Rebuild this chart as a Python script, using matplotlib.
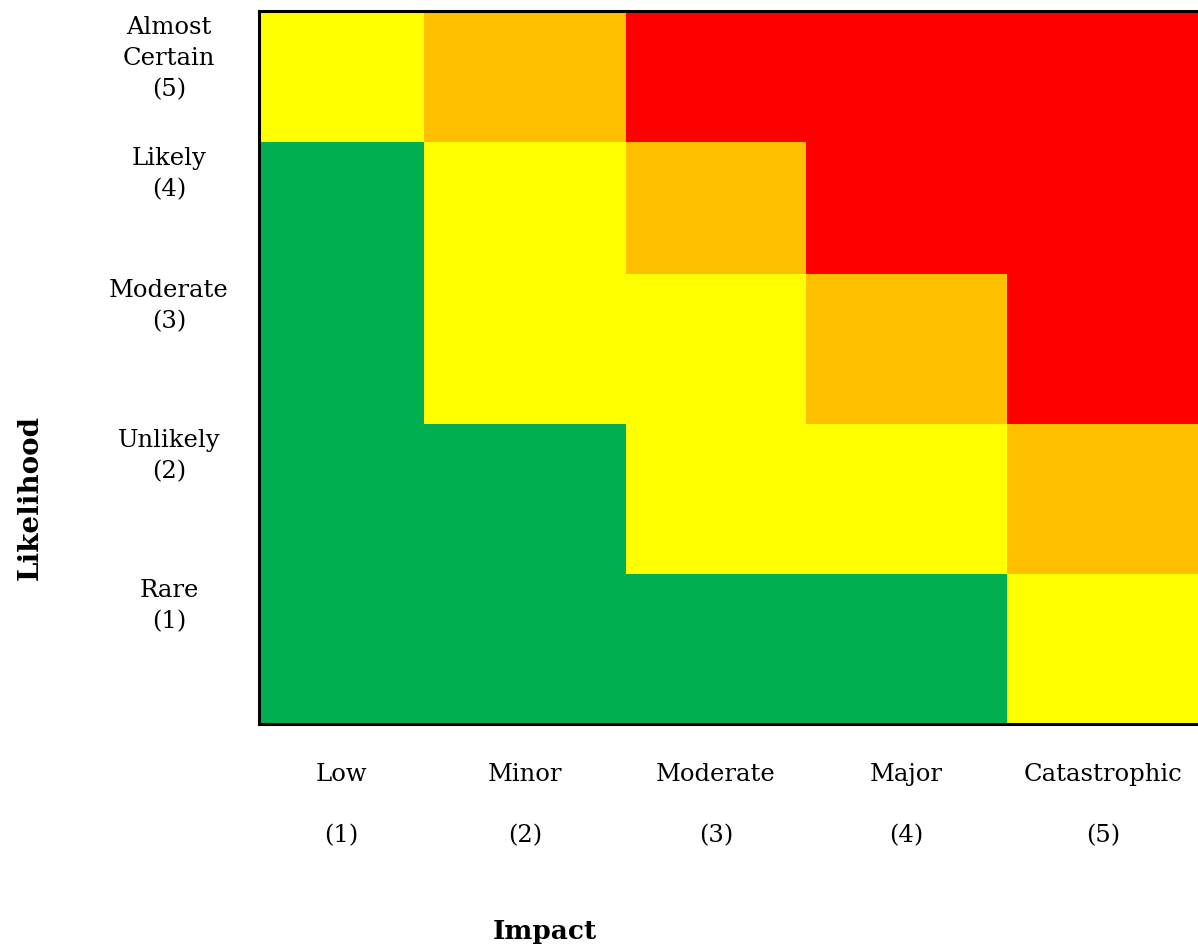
import matplotlib
matplotlib.use("Agg")
import matplotlib.pyplot as plt
from matplotlib.colors import ListedColormap
import numpy as np

# risk matrix data
impact_names = ["Low", "Minor", "Moderate", "Major", "Catastrophic"]
impact_scores = ["(1)", "(2)", "(3)", "(4)", "(5)"]
likelihood_labels = ["Almost\nCertain\n(5)", "Likely\n(4)", "Moderate\n(3)", "Unlikely\n(2)", "Rare\n(1)"]
# 0 = green, 1 = yellow, 2 = orange, 3 = red ; rows top (5) to bottom (1)
risk_level = [
    [1, 2, 3, 3, 3],
    [0, 1, 2, 3, 3],
    [0, 1, 1, 2, 3],
    [0, 0, 1, 1, 2],
    [0, 0, 0, 0, 1],
]
level_colors = ["#00B050", "#FFFF00", "#FFC000", "#FF0000"]

# table cell layout (pixels, like the original table)
col_edges = np.array([0, 165, 367, 547, 748, 940])
row_edges = np.array([0, 131, 263, 413, 563, 713])

W, H = 1198, 947
fig = plt.figure(figsize=(W / 100, H / 100), dpi=100)
ax = fig.add_axes([259 / W, (H - 724) / H, 940 / W, 713 / H])

cmap = ListedColormap(level_colors)
ax.pcolormesh(col_edges, row_edges, np.array(risk_level), cmap=cmap, vmin=-0.5, vmax=3.5)
ax.set_xlim(0, 940)
ax.set_ylim(713, 0)
ax.set_xticks([])
ax.set_yticks([])
for s in ["left", "top", "bottom"]:
    ax.spines[s].set_linewidth(2.2)
    ax.spines[s].set_color("black")
ax.spines["right"].set_visible(False)

font = "DejaVu Serif"
fs = 17.5

# y labels, top aligned in each row
for i, lab in enumerate(likelihood_labels):
    ax.text(-90, row_edges[i] + 5, lab, ha="center", va="top", fontsize=fs,
            family=font, linespacing=1.45, clip_on=False)

# x labels, centered under each column
for j in range(5):
    xc = 259 + (col_edges[j] + col_edges[j + 1]) / 2
    fig.text(xc / W, 1 - 774 / H, impact_names[j], ha="center", va="center",
             fontsize=fs, family=font)
    fig.text(xc / W, 1 - 836 / H, impact_scores[j], ha="center", va="center",
             fontsize=fs, family=font)

fig.text(30 / W, 1 - 497 / H, "Likelihood", rotation=90, ha="center", va="center",
         fontsize=20, family=font, fontweight="bold")
fig.text(545 / W, 1 - 931 / H, "Impact", ha="center", va="center",
         fontsize=19, family=font, fontweight="bold")

fig.savefig("out.png", dpi=100)
